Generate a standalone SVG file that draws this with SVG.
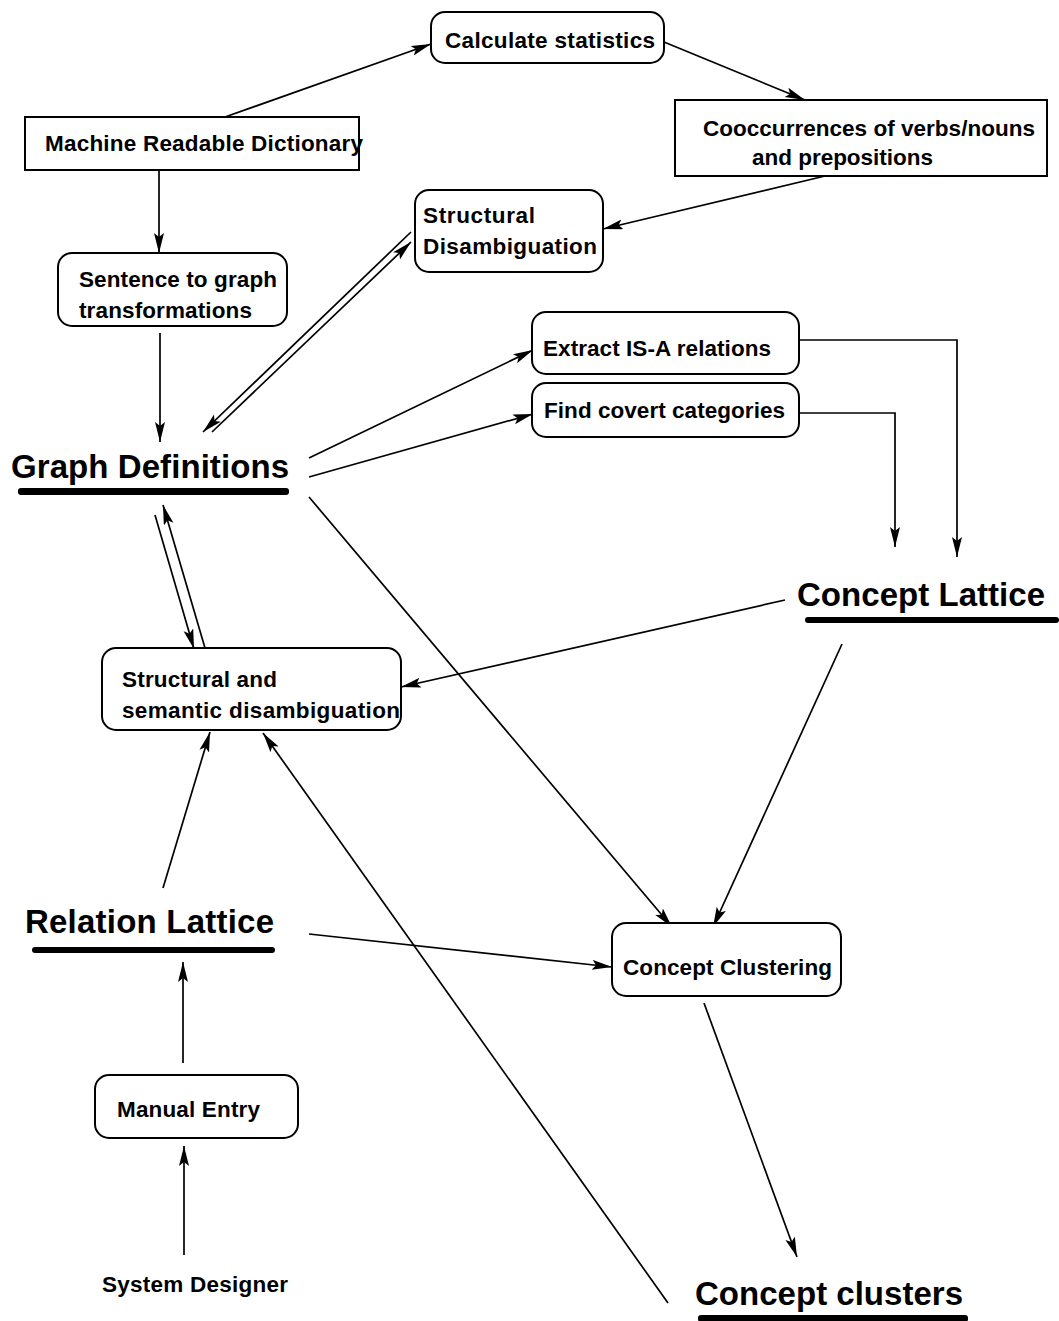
<svg xmlns="http://www.w3.org/2000/svg" width="1059" height="1321" viewBox="0 0 1059 1321">
  <style>
    text { font-family: "Liberation Sans", Arial, Helvetica, sans-serif; font-weight: bold; fill: #000; }
    .sm { font-size: 22.5px; }
    .lg { font-size: 33px; }
    .box { fill: #fff; stroke: #000; stroke-width: 2; }
    .bar { fill: #000; }
    .edge { fill: none; stroke: #000; stroke-width: 1.7; }
  </style>
  <defs>
    <marker id="arrow" markerUnits="userSpaceOnUse" markerWidth="22" markerHeight="12" refX="20" refY="5" orient="auto">
      <path d="M0,0 L20,5 L0,10 L4,5 z" fill="#000"/>
    </marker>
  </defs>
  <rect width="1059" height="1321" fill="#fff"/>

  <!-- connectors -->
  <g id="connectors">
    <line class="edge" x1="225" y1="117" x2="431" y2="44" marker-end="url(#arrow)"/>
    <line class="edge" x1="664" y1="42" x2="805" y2="100" marker-end="url(#arrow)"/>
    <line class="edge" x1="825" y1="176" x2="603" y2="229" marker-end="url(#arrow)"/>
    <line class="edge" x1="159" y1="170" x2="159" y2="253" marker-end="url(#arrow)"/>
    <line class="edge" x1="160" y1="333" x2="160" y2="442" marker-end="url(#arrow)"/>
    <line class="edge" x1="411" y1="232" x2="203" y2="432" marker-end="url(#arrow)"/>
    <line class="edge" x1="212" y1="432" x2="411" y2="242" marker-end="url(#arrow)"/>
    <line class="edge" x1="309" y1="458" x2="533" y2="350" marker-end="url(#arrow)"/>
    <line class="edge" x1="309" y1="477" x2="533" y2="414" marker-end="url(#arrow)"/>
    <line class="edge" x1="309" y1="497" x2="672" y2="927" marker-end="url(#arrow)"/>
    <polyline class="edge" points="799,340 957,340 957,557" marker-end="url(#arrow)"/>
    <polyline class="edge" points="799,413 895,413 895,547" marker-end="url(#arrow)"/>
    <line class="edge" x1="785" y1="600" x2="401" y2="687" marker-end="url(#arrow)"/>
    <line class="edge" x1="842" y1="644" x2="713" y2="927" marker-end="url(#arrow)"/>
    <line class="edge" x1="155" y1="515" x2="194" y2="649" marker-end="url(#arrow)"/>
    <line class="edge" x1="205" y1="648" x2="163" y2="505" marker-end="url(#arrow)"/>
    <line class="edge" x1="163" y1="888" x2="210" y2="732" marker-end="url(#arrow)"/>
    <line class="edge" x1="668" y1="1303" x2="263" y2="733" marker-end="url(#arrow)"/>
    <line class="edge" x1="309" y1="934" x2="612" y2="967" marker-end="url(#arrow)"/>
    <line class="edge" x1="183" y1="1063" x2="183" y2="962" marker-end="url(#arrow)"/>
    <line class="edge" x1="184" y1="1255" x2="184" y2="1146" marker-end="url(#arrow)"/>
    <line class="edge" x1="704" y1="1003" x2="797" y2="1257" marker-end="url(#arrow)"/>
  </g>

  <!-- process boxes -->
  <g id="calc-stats">
    <rect class="box" x="431" y="12" width="233" height="51" rx="14"/>
    <text class="sm" x="445" y="48" textLength="210">Calculate statistics</text>
  </g>
  <g id="mrd">
    <rect class="box" x="25" y="117" width="334" height="53"/>
    <text class="sm" x="45" y="151" textLength="318">Machine Readable Dictionary</text>
  </g>
  <g id="cooccurrences">
    <rect class="box" x="675" y="100" width="372" height="76"/>
    <text class="sm" x="703" y="136" textLength="332">Cooccurrences of verbs/nouns</text>
    <text class="sm" x="752" y="165" textLength="181">and prepositions</text>
  </g>
  <g id="structural-disambiguation">
    <rect class="box" x="415" y="190" width="188" height="82" rx="14"/>
    <text class="sm" x="423" y="223" textLength="112">Structural</text>
    <text class="sm" x="423" y="254" textLength="174">Disambiguation</text>
  </g>
  <g id="sentence-to-graph">
    <rect class="box" x="58" y="253" width="229" height="73" rx="14"/>
    <text class="sm" x="79" y="287" textLength="198">Sentence to graph</text>
    <text class="sm" x="79" y="318" textLength="173">transformations</text>
  </g>
  <g id="extract-isa">
    <rect class="box" x="532" y="312" width="267" height="62" rx="14"/>
    <text class="sm" x="543" y="356" textLength="228">Extract IS-A relations</text>
  </g>
  <g id="find-covert">
    <rect class="box" x="532" y="383" width="267" height="54" rx="14"/>
    <text class="sm" x="544" y="418" textLength="241">Find covert categories</text>
  </g>
  <g id="structural-semantic">
    <rect class="box" x="102" y="648" width="299" height="82" rx="14"/>
    <text class="sm" x="122" y="687" textLength="155">Structural and</text>
    <text class="sm" x="122" y="718" textLength="278">semantic disambiguation</text>
  </g>
  <g id="manual-entry">
    <rect class="box" x="95" y="1075" width="203" height="63" rx="14"/>
    <text class="sm" x="117" y="1117" textLength="143">Manual Entry</text>
  </g>
  <g id="concept-clustering">
    <rect class="box" x="612" y="923" width="229" height="73" rx="14"/>
    <text class="sm" x="623" y="975" textLength="209">Concept Clustering</text>
  </g>

  <!-- data stores: large underlined labels -->
  <g id="graph-definitions">
    <text class="lg" x="11" y="478" textLength="278">Graph Definitions</text>
    <rect class="bar" x="18" y="488" width="271" height="7" rx="3"/>
  </g>
  <g id="concept-lattice">
    <text class="lg" x="797" y="606" textLength="248">Concept Lattice</text>
    <rect class="bar" x="805" y="617" width="254" height="6" rx="3"/>
  </g>
  <g id="relation-lattice">
    <text class="lg" x="25" y="933" textLength="249">Relation Lattice</text>
    <rect class="bar" x="32" y="947" width="243" height="6" rx="3"/>
  </g>
  <g id="concept-clusters">
    <text class="lg" x="695" y="1305" textLength="268">Concept clusters</text>
    <rect class="bar" x="698" y="1315" width="270" height="7" rx="3"/>
  </g>

  <!-- external actor -->
  <g id="system-designer">
    <text class="sm" x="102" y="1292" textLength="186">System Designer</text>
  </g>
</svg>
